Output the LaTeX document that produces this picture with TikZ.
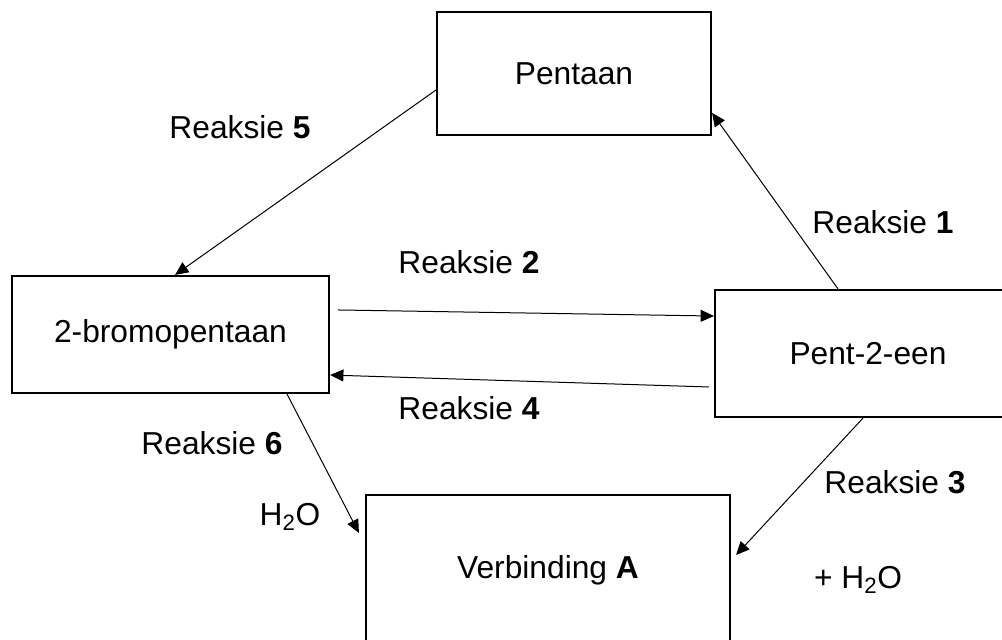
\documentclass[tikz,border=0pt]{standalone}
\usepackage{fontspec}
\setmainfont{Liberation Sans}
\usetikzlibrary{arrows.meta}
\begin{document}
\begin{tikzpicture}[x=0.75pt,y=-0.75pt,
  box/.style={draw, line width=1.6pt, inner sep=0pt, font=\fontsize{23.8}{28}\selectfont},
  lbl/.style={inner sep=0pt, font=\fontsize{23.8}{28}\selectfont},
  arr/.style={line width=0.75pt, -{Triangle[length=10pt,width=9pt]}}]
\clip (0,0) rectangle (1002,639);
\fill[white] (0,0) rectangle (1002,639);
\node[box, minimum width=274*0.75pt, minimum height=123*0.75pt] (pent) at (574,73.5) {Pentaan};
\node[box, minimum width=317*0.75pt, minimum height=117*0.75pt] (brom) at (170.5,334.5) {2-bromopentaan};
\node[box, minimum width=306*0.75pt, minimum height=127*0.75pt] (een) at (868,353.5) {Pent-2-een};
\node[box, minimum width=364*0.75pt, minimum height=150*0.75pt] (verb) at (548,570) {Verbinding \textbf{A}};
\draw[arr] ([yshift=-12.4pt]pent.west) -- ([xshift=3.4pt]brom.north);
\draw[arr] ([xshift=6pt,yshift=18.4pt]brom.east) -- ([yshift=28.1pt]een.west);
\draw[arr] ([xshift=-3.75pt,yshift=-25.1pt]een.west) -- ([yshift=-30.4pt]brom.east);
\draw[arr] ([xshift=-22.5pt]een.north) -- ([yshift=-29.6pt]pent.east);
\draw[arr] ([xshift=-3.75pt]een.south) -- ([xshift=3.75pt,yshift=11.25pt]verb.east);
\draw[arr] ([xshift=87.4pt]brom.south) -- ([xshift=-4.5pt,yshift=27.75pt]verb.west);
\node[lbl] (l5) at (240,127) {Reaksie \textbf{5}};
\node[lbl] (l2) at (469,262) {Reaksie \textbf{2}};
\node[lbl] (l1) at (883,222) {Reaksie \textbf{1}};
\node[lbl] (l4) at (469,408) {Reaksie \textbf{4}};
\node[lbl] (l6) at (212,443) {Reaksie \textbf{6}};
\node[lbl] (w6) at (290,517) {H\textsubscript{2}O};
\node[lbl] (l3) at (895,482) {Reaksie \textbf{3}};
\node[lbl] (w3) at (858,580) {+ H\textsubscript{2}O};
\end{tikzpicture}
\end{document}
